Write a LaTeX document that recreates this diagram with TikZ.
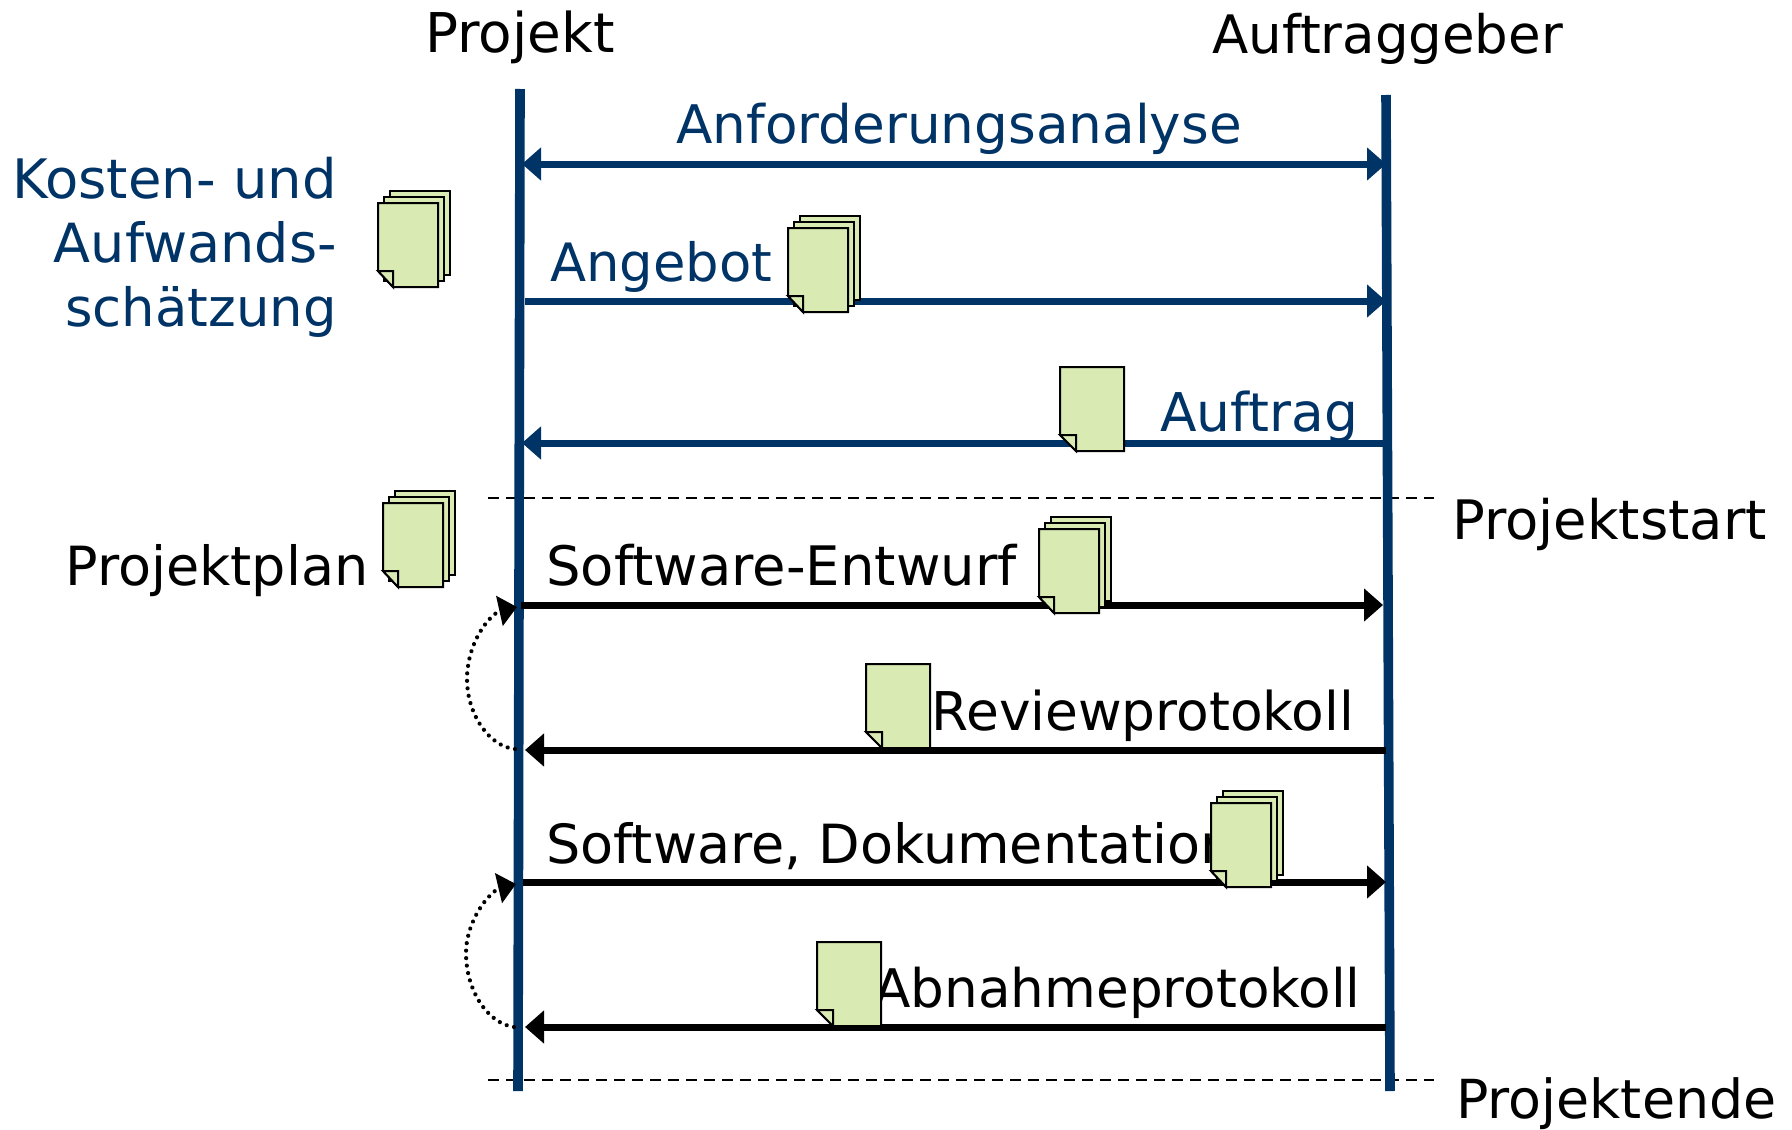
\documentclass[tikz,border=0pt]{standalone}
\usepackage{fontspec}
\setmainfont{DejaVu Sans}
\usetikzlibrary{arrows.meta}
\definecolor{navy}{HTML}{003366}
\definecolor{sheet}{HTML}{D9EAB3}
\tikzset{
  fsz/.style={font=\fontsize{#1}{32}\selectfont},
  lbl/.style={inner sep=0pt,anchor=base west,fsz=27},
  lblblue/.style={lbl,text=navy},
  lifeline/.style={line width=4.8pt,navy},
  msgblue/.style={line width=3.5pt,navy,-{Triangle[length=9.5pt,width=16pt]}},
  msgblack/.style={line width=3.5pt,black,-{Triangle[length=9.5pt,width=16pt]}},
  sep/.style={line width=1.4pt,dash pattern=on 5.5pt off 3.5pt},
  loopback/.style={line width=2.1pt,line cap=round,dash pattern=on 0.01pt off 3.75pt,-{Triangle[length=9pt,width=15pt]}},
  sheetline/.style={draw=black,fill=sheet,line width=1pt,line join=miter},
  pics/docone/.style={code={
    \path[sheetline] (0,0)--(64,0)--(64,84)--(16,84)--(0,68)--cycle;
    \path[sheetline] (0,68)--(16,68)--(16,84)--cycle;
  }},
  pics/docstack/.style={code={
    \path[sheetline] (11.5,-12.5) rectangle (71.5,71.5);
    \path[sheetline] (5.5,-6.2) rectangle (65.5,77.8);
    \path[sheetline] (0,0)--(60,0)--(60,84)--(15,84)--(0,68)--cycle;
    \path[sheetline] (0,68)--(15,68)--(15,84)--cycle;
  }},
}
\begin{document}
\begin{tikzpicture}[x=.5pt,y=-.5pt]
\useasboundingbox (0,0) rectangle (1792,1129);
% coordinates
\coordinate (ptop) at (520,89);
\coordinate (pbot) at (518,1091);
\coordinate (atop) at (1386,95);
\coordinate (abot) at (1390,1091);
\coordinate (p1) at (522,164); \coordinate (a1) at (1386,164);
\coordinate (p2) at (525,301); \coordinate (a2) at (1386,301);
\coordinate (p3) at (522,443); \coordinate (a3) at (1386,443);
\coordinate (p4) at (521,605); \coordinate (a4) at (1383,605);
\coordinate (p5) at (525,750); \coordinate (a5) at (1386,750);
\coordinate (p6) at (523,882); \coordinate (a6) at (1386,882);
\coordinate (p7) at (525,1027); \coordinate (a7) at (1386,1027);
\coordinate (s1l) at (488,498); \coordinate (s1r) at (1434,498);
\coordinate (s2l) at (488,1080); \coordinate (s2r) at (1434,1080);
% separators and lifelines
\draw[sep] (s1l) -- (s1r);
\draw[sep] (s2l) -- (s2r);
\draw[lifeline] (ptop) -- (pbot);
\draw[lifeline] (atop) -- (abot);
% messages
\draw[msgblue,{Triangle[length=9.5pt,width=16pt]}-{Triangle[length=9.5pt,width=16pt]}] (p1) -- (a1);
\draw[msgblue] (p2) -- (a2);
\draw[msgblue] (a3) -- (p3);
\draw[msgblack] (p4) -- (a4);
\draw[msgblack] (a5) -- (p5);
\draw[msgblack] (p6) -- (a6);
\draw[msgblack] (a7) -- (p7);
% loop arrows
\draw[loopback] (515,749) .. controls (490,747) and (467,715) .. (467,679) .. controls (467,650) and (482,622) .. (499,611) -- (517,607);
\draw[loopback] (514,1027) .. controls (489,1024) and (466,992) .. (466,953) .. controls (466,927) and (482,899) .. (499,888) -- (516,884);
% labels
\node[lbl,fsz=27.4] (tproj) at (425,53) {Projekt};
\node[lbl,fsz=26.5] (tauf) at (1212,54) {Auftraggeber};
\node[lblblue,fsz=26.6] (tanf) at (676,143) {Anforderungsanalyse};
\node[lblblue,anchor=north east,align=right] (tkost) at (337,157) {{\fontsize{27.2}{32}\selectfont Kosten- und}\\Aufwands-\\{\fontsize{26.4}{32}\selectfont schätzung}};
\node[lblblue,fsz=26.4] (tang) at (550,281) {Angebot};
\node[lblblue,fsz=26.7] (tauft) at (1160,431) {Auftrag};
\node[lbl,fsz=27.2] (tstart) at (1452,539) {Projektstart};
\node[lbl] (tplan) at (65,585) {Projektplan};
\node[lbl,fsz=27.2] (tent) at (546,585) {Software-Entwurf};
\node[lbl,fsz=26.7] (trev) at (931,730) {Reviewprotokoll};
\node[lbl] (tdok) at (546,863) {Software, Dokumentation};
\node[lbl,fsz=26.6] (tabn) at (874,1007) {Abnahmeprotokoll};
\node[lbl,fsz=26.9] (tend) at (1456,1118) {Projektende};
% documents
\pic at (378,203) {docstack};
\pic at (788,228) {docstack};
\pic at (383,503) {docstack};
\pic at (1039,529) {docstack};
\pic at (1211,803) {docstack};
\pic at (1060,367) {docone};
\pic at (866,664) {docone};
\pic at (817,942) {docone};
\end{tikzpicture}
\end{document}
